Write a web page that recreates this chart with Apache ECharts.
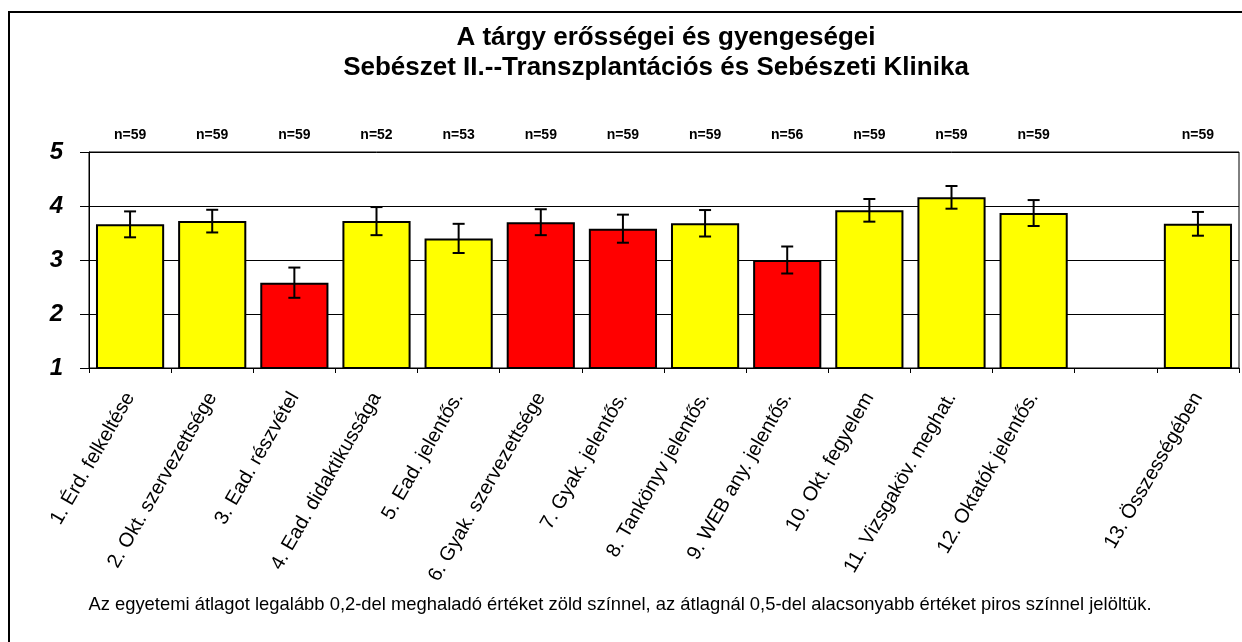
<!DOCTYPE html>
<html>
<head>
<meta charset="UTF-8" />
<title>A tárgy erősségei és gyengeségei</title>
<style>
* { margin: 0; padding: 0; }
html, body { width: 1242px; height: 642px; background: #fff; overflow: hidden; }
#chart { width: 1242px; height: 642px; }
</style>
</head>
<body>
<div id="chart"></div>
<script src="https://cdn.jsdelivr.net/npm/echarts@6/dist/echarts.min.js"></script>
<script>
// kategóriák (a 13. hely üres, ott nincs oszlop)
let categories = [
  '1. Érd. felkeltése', '2. Okt. szervezettsége', '3. Ead. részvétel',
  '4. Ead. didaktikussága', '5. Ead. jelentős.', '6. Gyak. szervezettsége',
  '7. Gyak. jelentős.', '8. Tankönyv jelentős.', '9. WEB any. jelentős.',
  '10. Okt. fegyelem', '11. Vizsgaköv. meghat.', '12. Oktatók jelentős.',
  '', '13. Összességében'
]
let means = [3.66, 3.72, 2.58, 3.72, 3.40, 3.70, 3.58, 3.68, 3.00, 3.92, 4.16, 3.87, null, 3.67]
let errors = [0.24, 0.21, 0.28, 0.26, 0.27, 0.24, 0.26, 0.245, 0.25, 0.21, 0.21, 0.24, null, 0.22]
let counts = [59, 59, 59, 52, 53, 59, 59, 59, 56, 59, 59, 59, null, 59]
// 'low' = az átlagnál 0,5-del alacsonyabb (piros), 'avg' = sárga
let rating = ['avg', 'avg', 'low', 'avg', 'avg', 'low', 'low', 'avg', 'low', 'avg', 'avg', 'avg', null, 'avg']
let yTicks = [1, 2, 3, 4, 5]

let colorOf = { avg: '#ffff00', low: '#ff0000', high: '#00cc00' }
let font = 'Liberation Sans, Arial, sans-serif'

let chart = echarts.init(document.getElementById('chart'))

let barData = means.map((v, i) => ({
  value: v,
  itemStyle: { color: rating[i] ? colorOf[rating[i]] : 'transparent' }
}))

let errData = means.map((v, i) => (v == null ? [i, null, null] : [i, v - errors[i], v + errors[i]]))

let option = {
  backgroundColor: '#fff',
  animation: false,
  textStyle: { fontFamily: font },
  graphic: [
    {
      type: 'rect',
      silent: true,
      shape: { x: 9, y: 12, width: 1400, height: 800 },
      style: { fill: 'none', stroke: '#000', lineWidth: 2 }
    },
    {
      type: 'text',
      x: 666, y: 38,
      style: {
        text: 'A tárgy erősségei és gyengeségei',
        font: 'bold 26px ' + font, fill: '#000',
        textAlign: 'center', textVerticalAlign: 'middle'
      }
    },
    {
      type: 'text',
      x: 656, y: 68,
      style: {
        text: 'Sebészet II.--Transzplantációs és Sebészeti Klinika',
        font: 'bold 26px ' + font, fill: '#000',
        textAlign: 'center', textVerticalAlign: 'middle'
      }
    },
    {
      type: 'text',
      x: 620, y: 605,
      style: {
        text: 'Az egyetemi átlagot legalább 0,2-del meghaladó értéket zöld színnel, az átlagnál 0,5-del alacsonyabb értéket piros színnel jelöltük.',
        font: '18.4px ' + font, fill: '#000',
        textAlign: 'center', textVerticalAlign: 'middle'
      }
    }
  ],
  grid: {
    left: 89, right: 3, top: 152, height: 216,
    show: true, borderColor: '#000', borderWidth: 1, backgroundColor: 'transparent'
  },
  xAxis: [
    {
      type: 'category',
      data: categories,
      axisLine: { lineStyle: { color: '#000', width: 1 } },
      axisTick: { show: true, length: 5, lineStyle: { color: '#000' } },
      axisLabel: {
        rotate: 60, interval: 0, margin: 26,
        color: '#000', fontSize: 20, fontFamily: font
      }
    },
    {
      type: 'category',
      position: 'top',
      data: counts.map(n => (n == null ? '' : 'n=' + n)),
      axisLine: { show: false },
      axisTick: { show: false },
      axisLabel: {
        interval: 0, margin: 10,
        color: '#000', fontSize: 14, fontWeight: 'bold', fontFamily: font
      }
    }
  ],
  yAxis: {
    type: 'value',
    min: yTicks[0], max: yTicks[yTicks.length - 1], interval: 1,
    axisLine: { show: true, lineStyle: { color: '#000', width: 1 } },
    axisTick: { show: true, length: 9, lineStyle: { color: '#000' } },
    splitLine: { lineStyle: { color: '#000', width: 1 } },
    axisLabel: {
      margin: 26, color: '#000', fontSize: 24,
      fontWeight: 'bold', fontStyle: 'italic', fontFamily: font
    }
  },
  series: [
    {
      type: 'bar',
      data: barData,
      barCategoryGap: '17%',
      itemStyle: { borderColor: '#000', borderWidth: 2 }
    },
    {
      type: 'custom',
      data: errData,
      z: 5,
      renderItem: function (params, api) {
        if (api.value(1) == null || isNaN(api.value(1))) return
        let lo = api.coord([api.value(0), api.value(1)])
        let hi = api.coord([api.value(0), api.value(2)])
        let w = 6
        let style = { stroke: '#000', lineWidth: 2 }
        return {
          type: 'group',
          children: [
            { type: 'line', shape: { x1: lo[0], y1: lo[1], x2: hi[0], y2: hi[1] }, style },
            { type: 'line', shape: { x1: hi[0] - w, y1: hi[1], x2: hi[0] + w, y2: hi[1] }, style },
            { type: 'line', shape: { x1: lo[0] - w, y1: lo[1], x2: lo[0] + w, y2: lo[1] }, style }
          ]
        }
      }
    }
  ]
}

chart.setOption(option)
</script>
</body>
</html>
